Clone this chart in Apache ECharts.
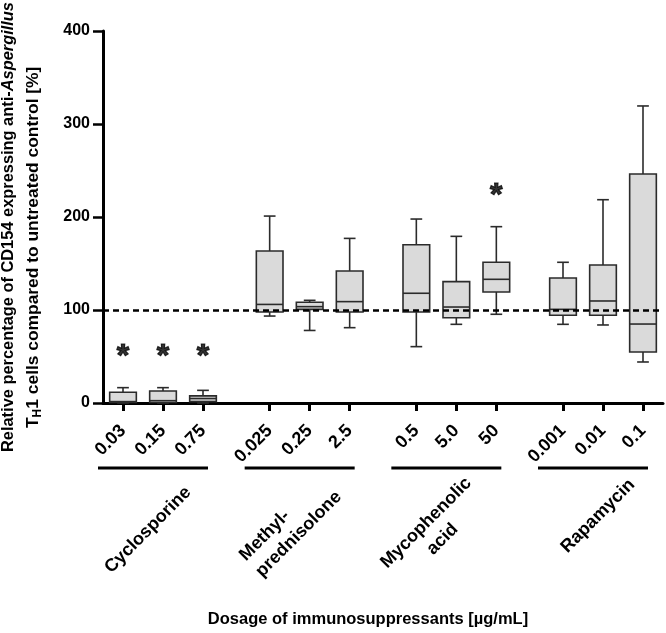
<!DOCTYPE html>
<html>
<head>
<meta charset="utf-8">
<script src="https://cdn.jsdelivr.net/npm/echarts@6/dist/echarts.min.js"></script>
<style>
html,body{margin:0;padding:0;background:#fff;}
#chart{width:666px;height:633px;}
</style>
</head>
<body>
<div id="chart"></div>
<script>
// ---- data ----
var doses = ['0.03','0.15','0.75','0.025','0.25','2.5','0.5','5.0','50','0.001','0.01','0.1'];
var groupNames = ['Cyclosporine','Methyl-\nprednisolone','Mycophenolic\nacid','Rapamycin'];
var groupSize = [3,3,3,3];
var mins    = [0,    0,    0,    93.5, 78,    81,   60.6, 84.6, 95.4,  84.6,  83.9,  44.1];
var q1s     = [0.5,  0.5,  1.5,  97.8, 100.7, 97.8, 97.8, 91.7, 119.4, 94.3,  94.3,  54.8];
var medians = [1.5,  2.5,  4.8,  106,  103.6, 109,  118,  103.2,133,   100.7, 109.7, 84.9];
var q3s     = [11.5, 12.9, 7.7,  163.4,108.3, 142,  170.2,130.5,151.3, 134.4, 148.4, 246.2];
var maxs    = [16.5, 16.5, 13.6, 201,  110.4, 177,  197.8,179.2,189.6, 151.3, 218.6, 319.4];
var starDose = [0,1,2,8];
var starY    = [58,58,58,231.5];
var refLine = 100;
var yTicks = [0,100,200,300,400];

// ---- layout of category slots (spacers between groups) ----
var FONT = '"Liberation Sans", Arial, sans-serif';
var slotPerBox = 3, slotGap = 5, slotLead = 1;
var slotIdx = [];
var cats = [];
(function(){
  var pos = slotLead;
  for (var g = 0; g < groupSize.length; g++) {
    for (var j = 0; j < groupSize[g]; j++) {
      slotIdx.push(pos);
      pos += (j < groupSize[g]-1) ? slotPerBox : slotGap;
    }
  }
  var n = slotIdx[slotIdx.length-1] + 2;
  for (var i = 0; i < n; i++) cats.push('');
  for (var d = 0; d < doses.length; d++) cats[slotIdx[d]] = doses[d];
})();

var boxData = doses.map(function(d, i){
  return [slotIdx[i], mins[i], q1s[i], medians[i], q3s[i], maxs[i]];
});
var starData = starDose.map(function(di, i){ return [slotIdx[di], starY[i]]; });

var chart = echarts.init(document.getElementById('chart'), null, {renderer:'canvas'});
var stroke = '#2b2b2b';
var option = {
  animation: false,
  backgroundColor: '#fff',
  grid: {left: 103, right: 3, top: 31, bottom: 230, containLabel: false, outerBoundsMode: 'none'},
  xAxis: {
    type: 'category', data: cats, boundaryGap: true,
    axisLine: {lineStyle: {color: '#000', width: 3}},
    axisTick: {show: true, alignWithLabel: true, length: 8, lineStyle: {color: '#000', width: 3},
      interval: function(idx, val){ return val !== ''; }},
    axisLabel: {interval: function(idx, val){ return val !== ''; }, rotate: 45, margin: 25,
      fontSize: 18, fontWeight: 'bold', color: '#000', fontFamily: FONT},
    splitLine: {show: false}
  },
  yAxis: {
    type: 'value', min: 0, max: 400, interval: 100,
    axisLine: {show: true, lineStyle: {color: '#000', width: 3}},
    axisTick: {show: true, length: 10, lineStyle: {color: '#000', width: 2.5}},
    axisLabel: {margin: 13, fontSize: 16, fontWeight: 'bold', color: '#000', fontFamily: FONT},
    splitLine: {show: false}
  },
  series: [
    {
      type: 'line', data: [], z: 1, silent: true,
      markLine: {silent: true, symbol: 'none', label: {show: false},
        lineStyle: {type: [6,4], color: '#000', width: 2.5},
        data: [{yAxis: refLine}]}
    },
    {
      type: 'custom', z: 3, silent: true,
      encode: {x: 0, y: [1,2,3,4,5]},
      data: boxData,
      renderItem: function(params, api){
        var x = api.value(0);
        var pMin = api.coord([x, api.value(1)]);
        var pQ1 = api.coord([x, api.value(2)]);
        var pMed = api.coord([x, api.value(3)]);
        var pQ3 = api.coord([x, api.value(4)]);
        var pMax = api.coord([x, api.value(5)]);
        var band = api.size([1,0])[0];
        var bw = band * 2;
        var cw = band * 0.88;
        var cx = pMed[0];
        var ls = {stroke: stroke, lineWidth: 1.6};
        return {type: 'group', children: [
          {type:'line', shape:{x1:cx,y1:pMax[1],x2:cx,y2:pQ3[1]}, style: ls},
          {type:'line', shape:{x1:cx-cw/2,y1:pMax[1],x2:cx+cw/2,y2:pMax[1]}, style: ls},
          {type:'line', shape:{x1:cx,y1:pMin[1],x2:cx,y2:pQ1[1]}, style: ls},
          {type:'line', shape:{x1:cx-cw/2,y1:pMin[1],x2:cx+cw/2,y2:pMin[1]}, style: ls},
          {type:'rect', shape:{x:cx-bw/2,y:pQ3[1],width:bw,height:pQ1[1]-pQ3[1]},
            style:{fill:'#dadada', stroke: stroke, lineWidth: 1.6}},
          {type:'line', shape:{x1:cx-bw/2,y1:pMed[1],x2:cx+bw/2,y2:pMed[1]}, style: ls}
        ]};
      }
    },
    {
      type: 'scatter', z: 4, silent: true, symbolSize: 1,
      itemStyle: {color: 'rgba(0,0,0,0)'},
      data: starData,
      label: {show: true, position: 'inside', formatter: '*', fontSize: 32, fontWeight: 'bold',
        color: '#000', textBorderColor: '#000', textBorderWidth: 1.2,
        fontFamily: FONT, offset: [0, 8]}
    }
  ]
};
chart.setOption(option);

// ---- group annotations (lines + labels), positioned from axis pixels ----
var axisY = chart.convertToPixel({gridIndex: 0}, [0, 0])[1];
var labelOffsets = [
  {dx: -15, dy: 127, align: 'center'},
  {dx: -59, dy: 163, align: 'left'},
  {dx: -22, dy: 128, align: 'center'},
  {dx: -5,  dy: 113, align: 'center'}
];
var graphics = [];
var start = 0;
for (var g = 0; g < groupSize.length; g++) {
  var first = chart.convertToPixel({xAxisIndex: 0}, slotIdx[start]);
  var mid = chart.convertToPixel({xAxisIndex: 0}, slotIdx[start + 1]);
  var last = chart.convertToPixel({xAxisIndex: 0}, slotIdx[start + groupSize[g] - 1]);
  graphics.push({type: 'line', silent: true,
    shape: {x1: first - 25, y1: axisY + 65, x2: last + 5, y2: axisY + 65},
    style: {stroke: '#000', lineWidth: 3}});
  var lo = labelOffsets[g];
  graphics.push({type: 'text', silent: true, x: mid + lo.dx, y: axisY + lo.dy, rotation: Math.PI/4,
    style: {text: groupNames[g], align: lo.align, verticalAlign: 'middle', fill: '#000',
      font: 'bold 18px ' + FONT, lineHeight: 23}});
  start += groupSize[g];
}
// x-axis title
graphics.push({type: 'text', silent: true, x: 368, y: 619,
  style: {text: 'Dosage of immunosuppressants [\u00b5g/mL]', align: 'center', verticalAlign: 'middle',
    fill: '#000', font: 'bold 16.5px ' + FONT}});
// y-axis title (two lines)
graphics.push({type: 'text', silent: true, x: 8, y: 452, rotation: Math.PI/2,
  style: {text: '{n|Relative percentage of CD154 expressing anti-}{i|Aspergillus}',
    align: 'left', verticalAlign: 'middle', fill: '#000',
    rich: {n: {font: 'bold 16.4px ' + FONT, fill: '#000'}, i: {font: 'italic bold 16.4px ' + FONT, fill: '#000'}}}});
graphics.push({type: 'text', silent: true, x: 33, y: 428, rotation: Math.PI/2,
  style: {text: '{n|T}{s|H}{n|1 cells compared to untreated control [%]}',
    align: 'left', verticalAlign: 'middle', fill: '#000',
    rich: {n: {font: 'bold 17.4px ' + FONT, fill: '#000'}, s: {font: 'bold 12px ' + FONT, fill: '#000', padding: [9,0,0,0]}}}});
chart.setOption({graphic: graphics});
</script>
</body>
</html>
